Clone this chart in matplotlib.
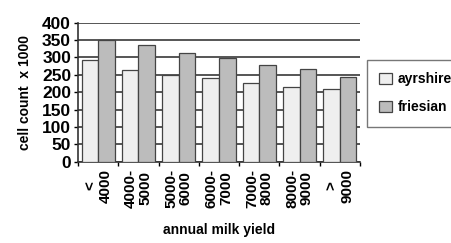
import numpy as np
import matplotlib
matplotlib.use("Agg")
import matplotlib.pyplot as plt

# milk yield classes and cell counts (x 1000)
categories = ["<\n4000", "4000-\n5000", "5000-\n6000", "6000-\n7000",
              "7000-\n8000", "8000-\n9000", ">\n9000"]
ayrshire = [292, 263, 248, 241, 227, 216, 208]
friesian = [351, 335, 313, 299, 278, 268, 244]
yticks = [0, 50, 100, 150, 200, 250, 300, 350, 400]

plt.rcParams['font.family'] = ['Liberation Sans', 'DejaVu Sans']
plt.rcParams['font.weight'] = 'bold'

fig = plt.figure(figsize=(4.52, 2.43), dpi=100, facecolor='white')
ax = fig.add_axes([78 / 452, 1 - 161.7 / 243, (360 - 78) / 452, (161.7 - 22.6) / 243])

x = np.arange(len(categories))
w = 0.41
ax.bar(x - w / 2, ayrshire, w, color='#efefef', edgecolor='#444444', linewidth=0.9,
       label='ayrshire', zorder=3)
ax.bar(x + w / 2, friesian, w, color='#bcbcbc', edgecolor='#444444', linewidth=0.9,
       label='friesian', zorder=3)

ax.set_ylim(0, 400)
ax.set_xlim(-0.5, len(categories) - 0.5)
ax.set_yticks(yticks)
ax.set_yticklabels([str(v) for v in yticks], fontsize=12.5, fontweight='bold')
ax.yaxis.grid(True, color='#555555', linewidth=1.4, zorder=0)
ax.set_axisbelow(True)

ax.set_xticks(x)
ax.set_xticklabels(categories, rotation=90, fontsize=11, fontweight='bold',
                   multialignment='center', linespacing=1.05)
ax.set_xticks(np.arange(len(categories) + 1) - 0.5, minor=True)
ax.tick_params(axis='x', which='major', length=0, pad=5)
ax.tick_params(axis='x', which='minor', length=3, width=1, direction='out')
ax.tick_params(axis='y', length=3, width=1, pad=2)

for s in ['top', 'right']:
    ax.spines[s].set_visible(False)
for s in ['left', 'bottom']:
    ax.spines[s].set_color('#333333')
    ax.spines[s].set_linewidth(1.2)

ax.set_ylabel('cell count  x 1000', fontsize=10, fontweight='bold', labelpad=7)
ax.set_xlabel('annual milk yield', fontsize=10, fontweight='bold', labelpad=11)

leg = ax.legend(loc='upper left', bbox_to_anchor=(367 / 452, 1 - 60 / 243),
                bbox_transform=fig.transFigure, fontsize=10, frameon=True,
                fancybox=False, edgecolor='#555555', handlelength=0.9,
                handleheight=0.9, borderpad=0.9, labelspacing=1.0,
                handletextpad=0.4, borderaxespad=0)
leg.get_frame().set_linewidth(1.0)
for t in leg.get_texts():
    t.set_fontweight('bold')

fig.savefig('out.png', dpi=100, facecolor='white')
